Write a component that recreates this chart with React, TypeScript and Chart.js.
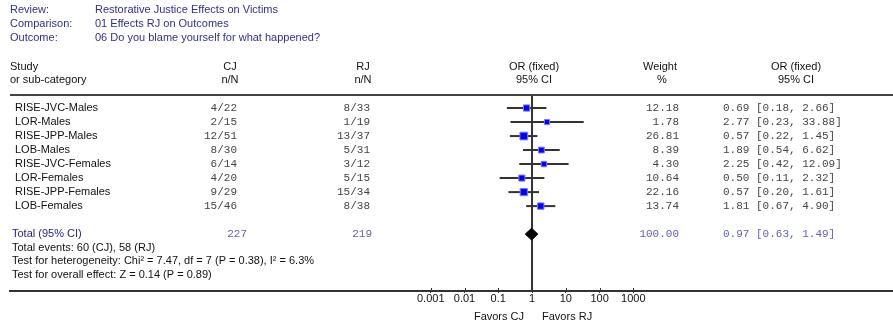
import { useEffect, useRef } from "react";
import { Chart, registerables } from "chart.js";

Chart.register(...registerables);

// ---------- data ----------
const HEADER_LABELS = ["Review:", "Comparison:", "Outcome:"];
const HEADER_VALUES = [
  "Restorative Justice Effects on Victims",
  "01 Effects RJ on Outcomes",
  "06 Do you blame yourself for what happened?",
];

const STUDIES = [
  "RISE-JVC-Males",
  "LOR-Males",
  "RISE-JPP-Males",
  "LOB-Males",
  "RISE-JVC-Females",
  "LOR-Females",
  "RISE-JPP-Females",
  "LOB-Females",
];
const CJ_NN = ["4/22", "2/15", "12/51", "8/30", "6/14", "4/20", "9/29", "15/46"];
const RJ_NN = ["8/33", "1/19", "13/37", "5/31", "3/12", "5/15", "15/34", "8/38"];
const WEIGHTS = [12.18, 1.78, 26.81, 8.39, 4.3, 10.64, 22.16, 13.74];
const OR = [0.69, 2.77, 0.57, 1.89, 2.25, 0.5, 0.57, 1.81];
const CI_LOW = [0.18, 0.23, 0.22, 0.54, 0.42, 0.11, 0.2, 0.67];
const CI_HIGH = [2.66, 33.88, 1.45, 6.62, 12.09, 2.32, 1.61, 4.9];

const TOTAL_LABEL = "Total (95% CI)";
const TOTAL_CJ = "227";
const TOTAL_RJ = "219";
const TOTAL_WEIGHT = 100.0;
const TOTAL_OR = 0.97;
const TOTAL_LOW = 0.63;
const TOTAL_HIGH = 1.49;

const FOOTNOTES = [
  "Total events: 60 (CJ), 58 (RJ)",
  "Test for heterogeneity: Chi\u00B2 = 7.47, df = 7 (P = 0.38), I\u00B2 = 6.3%",
  "Test for overall effect: Z = 0.14 (P = 0.89)",
];

const X_TICKS = [0.001, 0.01, 0.1, 1, 10, 100, 1000];
const X_TICK_LABELS = ["0.001", "0.01", "0.1", "1", "10", "100", "1000"];
const FAVORS_LEFT = "Favors CJ";
const FAVORS_RIGHT = "Favors RJ";

// ---------- layout / style ----------
const W = 893;
const H = 325;
const TOTAL_ROW = 9;
const Y_MIN = -0.93;
const Y_MAX = 13.06;
const X_MIN = Math.pow(10, -15.46);
const X_MAX = Math.pow(10, 10.69);
const SANS = "'Liberation Sans', Arial, sans-serif";
const MONO = "'Liberation Mono', 'Courier New', monospace";
const HEAD_BLUE = "#2e2e9c";
const TOTAL_BLUE = "#23238c";
const TOTAL_NUM = "#6060c0";
const LINE = "#333333";

const fmtCI = (o: number, l: number, h: number) =>
  `${o.toFixed(2)} [${l.toFixed(2)}, ${h.toFixed(2)}]`;

const textPlugin = {
  id: "forestText",
  afterDraw(chart: any) {
    const ctx = chart.ctx as CanvasRenderingContext2D;
    const ys = chart.scales.y;
    const xs = chart.scales.x;
    const x1 = xs.getPixelForValue(1);
    ctx.save();
    ctx.textBaseline = "middle";

    // header block
    ctx.font = `11px ${SANS}`;
    ctx.fillStyle = HEAD_BLUE;
    ctx.textAlign = "left";
    HEADER_LABELS.forEach((t, i) => {
      const y = 10 + i * 13.8;
      ctx.fillText(t, 10, y);
      ctx.fillText(HEADER_VALUES[i], 95, y);
    });

    // column headers
    ctx.fillStyle = "#111";
    ctx.textAlign = "left";
    ctx.fillText("Study", 10, 66.5);
    ctx.fillText("or sub-category", 10, 80);
    ctx.textAlign = "center";
    ctx.fillText("CJ", 230, 66.5);
    ctx.fillText("n/N", 230, 80);
    ctx.fillText("RJ", 363, 66.5);
    ctx.fillText("n/N", 363, 80);
    ctx.fillText("OR (fixed)", 534, 66.5);
    ctx.fillText("95% CI", 534, 80);
    ctx.fillText("Weight", 660, 66.5);
    ctx.fillText("%", 662, 80);
    ctx.fillText("OR (fixed)", 796, 66.5);
    ctx.fillText("95% CI", 796, 80);

    // top rule
    ctx.strokeStyle = "#444";
    ctx.lineWidth = 2;
    ctx.beginPath();
    ctx.moveTo(10, 95);
    ctx.lineTo(W, 95);
    ctx.stroke();

    // study rows
    STUDIES.forEach((s, i) => {
      const y = ys.getPixelForValue(i);
      ctx.font = `11px ${SANS}`;
      ctx.fillStyle = "#111";
      ctx.textAlign = "left";
      ctx.fillText(s, 15, y);
      ctx.font = `11px ${MONO}`;
      ctx.fillStyle = "#444";
      ctx.textAlign = "right";
      ctx.fillText(CJ_NN[i], 237, y);
      ctx.fillText(RJ_NN[i], 370, y);
      ctx.fillText(WEIGHTS[i].toFixed(2), 679, y);
      ctx.textAlign = "left";
      ctx.fillText(fmtCI(OR[i], CI_LOW[i], CI_HIGH[i]), 723, y);
    });

    // total row
    const ty = ys.getPixelForValue(TOTAL_ROW);
    ctx.font = `11px ${SANS}`;
    ctx.fillStyle = TOTAL_BLUE;
    ctx.textAlign = "left";
    ctx.fillText(TOTAL_LABEL, 12, ty);
    ctx.font = `11px ${MONO}`;
    ctx.fillStyle = TOTAL_NUM;
    ctx.textAlign = "right";
    ctx.fillText(TOTAL_CJ, 247, ty);
    ctx.fillText(TOTAL_RJ, 372, ty);
    ctx.fillText(TOTAL_WEIGHT.toFixed(2), 679, ty);
    ctx.textAlign = "left";
    ctx.fillText(fmtCI(TOTAL_OR, TOTAL_LOW, TOTAL_HIGH), 723, ty);

    // footnotes
    ctx.font = `11px ${SANS}`;
    ctx.fillStyle = "#111";
    FOOTNOTES.forEach((t, i) => {
      ctx.fillText(t, 12, ty + 13.6 * (i + 1));
    });

    // small upward tick marks above the axis line
    const bottom = chart.chartArea.bottom;
    ctx.strokeStyle = LINE;
    ctx.lineWidth = 1;
    X_TICKS.forEach((v) => {
      const px = Math.round(xs.getPixelForValue(v)) + 0.5;
      ctx.beginPath();
      ctx.moveTo(px, bottom - 3);
      ctx.lineTo(px, bottom);
      ctx.stroke();
    });

    // favours labels
    ctx.fillStyle = "#111";
    ctx.textAlign = "right";
    ctx.fillText(FAVORS_LEFT, x1 - 8, 317);
    ctx.textAlign = "left";
    ctx.fillText(FAVORS_RIGHT, x1 + 10, 317);
    ctx.restore();
  },
};

export default function App() {
  const ref = useRef<HTMLCanvasElement | null>(null);

  useEffect(() => {
    if (!ref.current) return;
    const ciSets = STUDIES.map((s, i) => ({
      label: s + " CI",
      data: [
        { x: CI_LOW[i], y: i },
        { x: CI_HIGH[i], y: i },
      ],
      showLine: true,
      borderColor: LINE,
      borderWidth: 2,
      pointRadius: 0,
      order: 2,
    }));
    const chart = new Chart(ref.current, {
      type: "scatter",
      data: {
        datasets: [
          {
            label: "no effect",
            data: [
              { x: 1, y: Y_MIN },
              { x: 1, y: Y_MAX },
            ],
            showLine: true,
            borderColor: LINE,
            borderWidth: 2,
            pointRadius: 0,
            order: 3,
          },
          ...ciSets,
          {
            label: "OR",
            data: OR.map((o, i) => ({ x: o, y: i })),
            pointStyle: "rect",
            pointRadius: WEIGHTS.map((w) => (5.0 + 0.1 * w) / 1.414),
            backgroundColor: "#0000ff",
            borderColor: "#7a7aff",
            borderWidth: 1,
            order: 1,
          },
          {
            label: "Total",
            data: [
              { x: TOTAL_LOW, y: TOTAL_ROW },
              { x: TOTAL_OR, y: TOTAL_ROW - 0.42 },
              { x: TOTAL_HIGH, y: TOTAL_ROW },
              { x: TOTAL_OR, y: TOTAL_ROW + 0.42 },
              { x: TOTAL_LOW, y: TOTAL_ROW },
            ],
            showLine: true,
            fill: "shape",
            backgroundColor: "#000",
            borderColor: "#000",
            borderWidth: 1,
            pointRadius: 0,
            tension: 0,
            order: 0,
          } as any,
        ],
      },
      options: {
        responsive: false,
        animation: false,
        devicePixelRatio: 1,
        layout: { autoPadding: false, padding: { left: 10, right: 0, top: 95, bottom: 0 } },
        plugins: {
          legend: { display: false },
          tooltip: { enabled: false },
        },
        scales: {
          x: {
            type: "logarithmic",
            position: "bottom",
            min: X_MIN,
            max: X_MAX,
            afterBuildTicks: (s: any) => {
              s.ticks = X_TICKS.map((v) => ({ value: v }));
            },
            afterFit: (s: any) => {
              s.height = 34;
              s.paddingLeft = 0;
              s.paddingRight = 0;
            },
            border: { display: true, color: LINE, width: 2 },
            grid: {
              display: true,
              drawOnChartArea: false,
              drawTicks: true,
              tickLength: 2,
              color: LINE,
              lineWidth: 1,
            },
            ticks: {
              autoSkip: false,
              maxRotation: 0,
              padding: -1,
              color: "#111",
              font: { family: SANS, size: 11 },
              callback: (v: any) => {
                const idx = X_TICKS.findIndex((t) => Math.abs(t - Number(v)) < t * 1e-6);
                return idx >= 0 ? X_TICK_LABELS[idx] : "";
              },
            },
          },
          y: {
            type: "linear",
            display: false,
            reverse: true,
            min: Y_MIN,
            max: Y_MAX,
          },
        },
      },
      plugins: [textPlugin],
    } as any);
    return () => chart.destroy();
  }, []);

  return (
    <div style={{ position: "absolute", left: 0, top: 0, width: W, height: H, background: "#fff" }}>
      <canvas ref={ref} width={W} height={H} style={{ display: "block" }} />
    </div>
  );
}
